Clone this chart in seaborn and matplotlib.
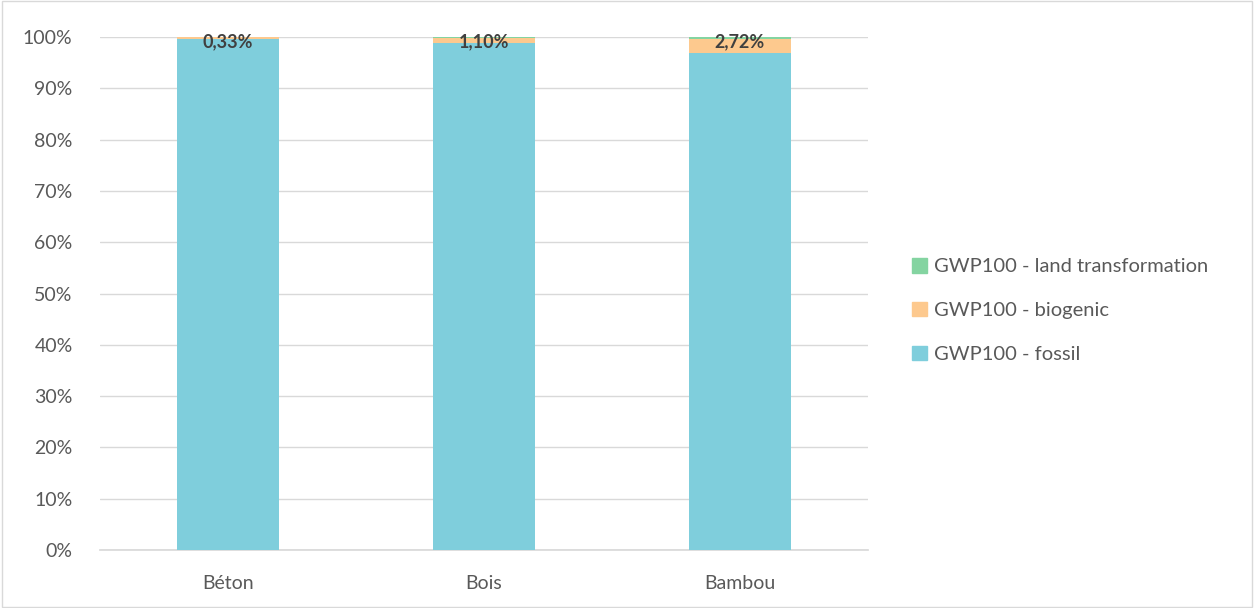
import matplotlib
matplotlib.use("Agg")
import matplotlib.pyplot as plt
import seaborn as sns
import pandas as pd
from matplotlib.patches import Patch, Rectangle

# Shares of GWP100 by origin, in percent
materials = ["Béton", "Bois", "Bambou"]
biogenic = [0.33, 1.10, 2.72]
land_transformation = [0.05, 0.10, 0.30]
fossil = [100 - b - l for b, l in zip(biogenic, land_transformation)]
labels = ["0,33%", "1,10%", "2,72%"]

c_fossil = "#7fcedc"
c_bio = "#fdc98e"
c_land = "#84d4a1"
text_col = "#595959"

sns.set_theme(style="white")
plt.rcParams["font.family"] = ["Lato", "DejaVu Sans"]

fig = plt.figure(figsize=(12.54, 6.08), dpi=100)
ax = fig.add_axes([0.08, 0.0954, 0.612, 0.8436])

df = pd.DataFrame({"material": materials, "fossil": fossil,
                   "biogenic": biogenic, "land": land_transformation})
df["fb"] = df["fossil"] + df["biogenic"]
df["total"] = df["fb"] + df["land"]

w = 0.4
for col, colour in [("total", c_land), ("fb", c_bio), ("fossil", c_fossil)]:
    sns.barplot(data=df, x="material", y=col, color=colour, width=w,
                saturation=1, ax=ax, zorder=3, linewidth=0, edgecolor="none")

for i, lab in enumerate(labels):
    ax.text(i, 99.0, lab, ha="center", va="center", fontsize=13,
            fontweight="bold", color="#404040", zorder=5)

ax.set_ylim(0, 100)
ax.set_xlim(-0.5, 2.5)
ax.set_yticks(range(0, 101, 10))
ax.set_yticklabels([f"{v}%" for v in range(0, 101, 10)])
ax.yaxis.grid(True, color="#d9d9d9", linewidth=1, zorder=0)
ax.set_xlabel("")
ax.set_ylabel("")
ax.tick_params(axis="both", colors=text_col, labelsize=14, length=0)
ax.tick_params(axis="y", pad=20)
ax.tick_params(axis="x", pad=18)
for s in ["left", "right", "top"]:
    ax.spines[s].set_visible(False)
ax.spines["bottom"].set_color("#d9d9d9")

handles = [Patch(color=c_land, label="GWP100 - land transformation"),
           Patch(color=c_bio, label="GWP100 - biogenic"),
           Patch(color=c_fossil, label="GWP100 - fossil")]
fig.legend(handles=handles, loc="center left", bbox_to_anchor=(0.713, 0.489),
           frameon=False, fontsize=14.5, labelcolor=text_col,
           handlelength=0.72, handleheight=0.72, handletextpad=0.35,
           labelspacing=1.32)

fig.patches.append(Rectangle((0.0015, 0.002), 0.997, 0.996, transform=fig.transFigure,
                             fill=False, edgecolor="#d9d9d9", linewidth=1))

fig.savefig("out.png", dpi=100)
